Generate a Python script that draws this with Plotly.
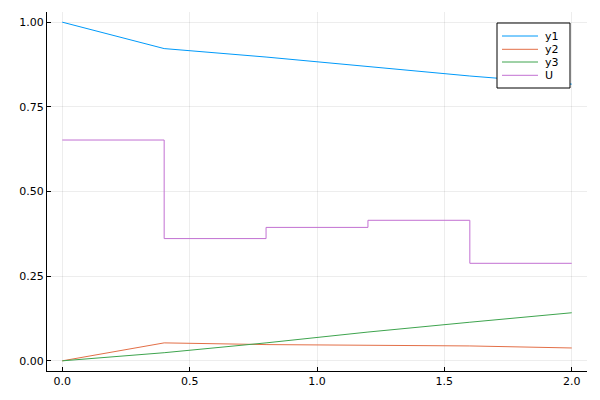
import plotly.graph_objects as go

t = [0.0, 0.4, 0.8, 1.2, 1.6, 2.0]
y1 = [1.0, 0.922, 0.897, 0.870, 0.841, 0.817]
y2 = [0.0, 0.053, 0.048, 0.046, 0.044, 0.038]
y3 = [0.0, 0.024, 0.053, 0.085, 0.114, 0.142]
U = [0.652, 0.361, 0.394, 0.415, 0.288, 0.288]

names = ["y1", "y2", "y3", "U"]
colors = ["#009AFA", "#E36F47", "#3EA44E", "#C271D2"]
xticks = [0.0, 0.5, 1.0, 1.5, 2.0]
xticklabels = ["0.0", "0.5", "1.0", "1.5", "2.0"]
yticks = [0.0, 0.25, 0.5, 0.75, 1.0]
yticklabels = ["0.00", "0.25", "0.50", "0.75", "1.00"]

W, H = 600, 400
ml, mr, mt, mb = 47, 13, 12, 29
pw, ph = W - ml - mr, H - mt - mb

fig = go.Figure()
series = [y1, y2, y3, U]
for i, (nm, s) in enumerate(zip(names, series)):
    fig.add_trace(go.Scatter(
        x=t, y=s, mode="lines", name=nm,
        line=dict(color=colors[i], width=1, shape="hv" if nm == "U" else "linear"),
        showlegend=False, hoverinfo="skip",
    ))

def px2paper(px, py):
    return (px - ml) / pw, (H - mb - py) / ph

shapes = []
annotations = []
# legend box
bx0, by0 = px2paper(497, 88)
bx1, by1 = px2paper(570, 23)
shapes.append(dict(type="rect", xref="paper", yref="paper", x0=bx0, y0=by0, x1=bx1, y1=by1,
                   line=dict(color="black", width=1), fillcolor="white", layer="above"))
rows = [36, 49.3, 62, 75.3]
for i, nm in enumerate(names):
    lx0, ly = px2paper(502, rows[i])
    lx1, _ = px2paper(538, rows[i])
    shapes.append(dict(type="line", xref="paper", yref="paper", x0=lx0, x1=lx1, y0=ly, y1=ly,
                       line=dict(color=colors[i], width=1), layer="above"))
    tx, _ = px2paper(543, rows[i])
    annotations.append(dict(xref="paper", yref="paper", x=tx, y=ly, text=nm, showarrow=False,
                            xanchor="left", yanchor="middle",
                            font=dict(family="DejaVu Sans", size=11, color="black")))

axis_common = dict(
    showgrid=True, gridcolor="rgba(0,0,0,0.07)", gridwidth=1,
    zeroline=False, showline=True, linecolor="black", linewidth=1,
    ticks="inside", ticklen=4, tickcolor="black", tickwidth=1,
    tickfont=dict(family="DejaVu Sans", size=11, color="black"),
    mirror=False,
)

fig.update_layout(
    width=W, height=H,
    margin=dict(l=ml, r=mr, t=mt, b=mb, pad=0),
    paper_bgcolor="white", plot_bgcolor="white",
    xaxis=dict(range=[-0.06, 2.06], tickvals=xticks, ticktext=xticklabels, **axis_common),
    yaxis=dict(range=[-0.03, 1.03], tickvals=yticks, ticktext=yticklabels, **axis_common),
    shapes=shapes, annotations=annotations,
    showlegend=False,
)

fig.write_html("out.html", config={"displayModeBar": False},
               post_script="document.body.style.margin='0';")
